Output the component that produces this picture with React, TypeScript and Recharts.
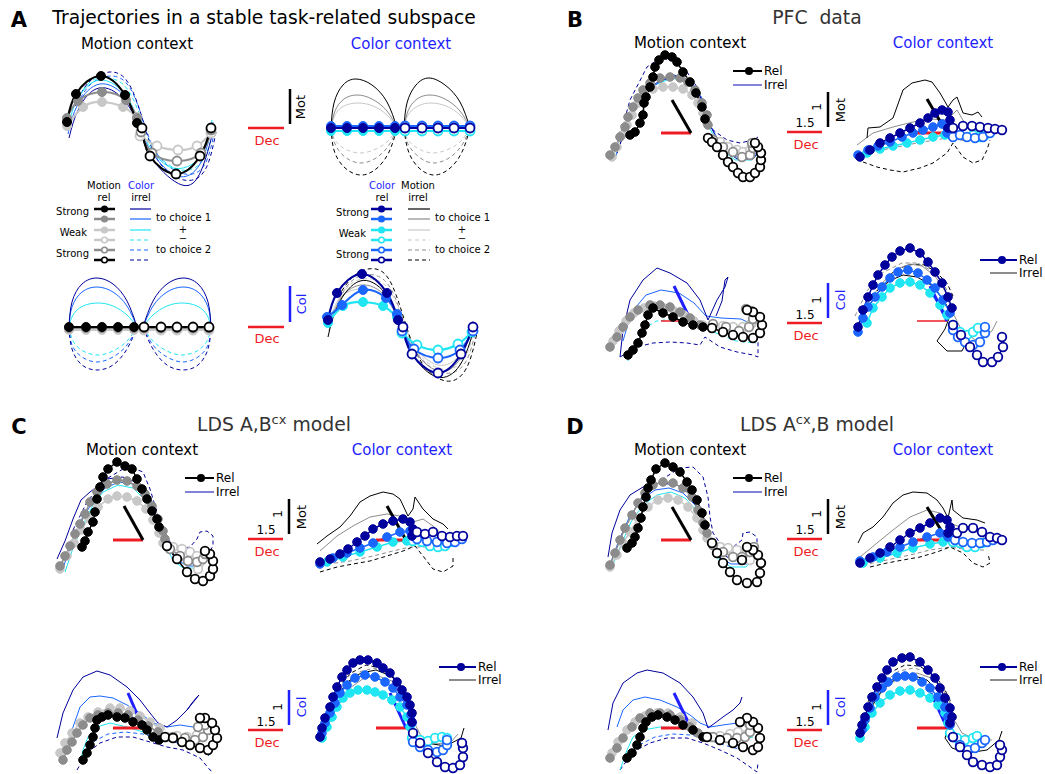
import React from 'react'
import { LineChart, Line, XAxis, YAxis } from 'recharts'

type P = [number, number]

// ---------- Panel A: idealised trajectories (origin at the centre of each plot) ----------
// motion context, motion axis: relevant motion (grays), irrelevant color (blues)
const A_TL_F1: P[] = [[-72, 4], [-63, 32], [-38, 50], [-14, 31], [-2, 3]]
const A_TL_F2: P[] = [[-72, 8], [-61, 25], [-37, 34], [-13, 26], [-2, 8]]
const A_TL_F3: P[] = [[-72, 0], [-56, 19], [-37, 24], [-16, 19], [-2, 9]]
const A_TL_O3: P[] = [[1, -10], [18, -20], [39, -24], [58, -20], [72, -7]]
const A_TL_O2: P[] = [[2, -6], [13, -27], [38, -35], [62, -27], [72, -4]]
const A_TL_O1: P[] = [[3, -2], [11, -30], [37, -48], [61, -30], [72, -2]]
const A_TL_S1: P[] = [[-70, -12], [-60, 18], [-40, 38], [-15, 26], [2, -5], [15, -35], [43, -59], [62, -45], [75, -2]]
const A_TL_S2: P[] = [[-71, -8], [-61, 22], [-39, 42], [-13, 28], [1, -3], [14, -28], [38, -50], [61, -38], [74, 4]]
const A_TL_S3: P[] = [[-71, -4], [-62, 26], [-39, 46], [-12, 29], [1, -1], [13, -24], [34, -42], [61, -31], [73, 6]]
const A_TL_D1: P[] = [[-64, 20], [-50, 44], [-29, 54], [-10, 42], [5, 2], [20, -36], [45, -54], [66, -44], [77, -6]]
const A_TL_D2: P[] = [[-62, 22], [-48, 42], [-28, 50], [-9, 38], [6, 0], [21, -32], [46, -48], [66, -38], [76, -2]]
const A_TL_D3: P[] = [[-63, 24], [-49, 44], [-30, 48], [-11, 36], [4, 2], [18, -28], [42, -44], [64, -34], [75, 0]]

// color context, motion axis: relevant color flat, irrelevant motion arcs
const A_TR_F1: P[] = [[-69, 0], [-53, 0], [-37, 0], [-21, 0], [-5, 0]]
const A_TR_F2: P[] = [[-69, 2], [-53, 2], [-37, 2], [-21, 2], [-5, 2]]
const A_TR_F3: P[] = [[-69, -3], [-53, -3], [-37, -3], [-21, -3], [-5, -3]]
const A_TR_O3: P[] = [[5, -3], [22, -3], [38, -3], [54, -3], [70, -3]]
const A_TR_O2: P[] = [[5, 2], [22, 2], [38, 2], [54, 2], [70, 2]]
const A_TR_O1: P[] = [[5, 0], [22, 0], [38, 0], [54, 0], [70, 0]]
const A_TR_S1L: P[] = [[-69, 0], [-66, 25], [-57, 43], [-44, 49], [-28, 43], [-13, 26], [-3, 0]]
const A_TR_S1R: P[] = [[4, 0], [7, 25], [16, 43], [29, 50], [45, 43], [60, 26], [70, 0]]
const A_TR_S2L: P[] = [[-69, 0], [-65, 17], [-56, 29], [-43, 33], [-28, 29], [-13, 17], [-3, 0]]
const A_TR_S2R: P[] = [[4, 0], [8, 17], [17, 29], [30, 33], [45, 29], [60, 17], [70, 0]]
const A_TR_S3L: P[] = [[-69, 0], [-65, 13], [-56, 22], [-42, 25], [-27, 22], [-13, 13], [-3, 0]]
const A_TR_S3R: P[] = [[4, 0], [8, 13], [18, 22], [31, 25], [46, 22], [60, 13], [70, 0]]
const A_TR_D1L: P[] = [[-69, 0], [-66, -22], [-56, -39], [-40, -47], [-24, -41], [-11, -24], [-3, 0]]
const A_TR_D1R: P[] = [[4, 0], [8, -22], [18, -39], [33, -47], [49, -41], [62, -24], [70, 0]]
const A_TR_D2L: P[] = [[-69, 0], [-65, -16], [-55, -29], [-40, -35], [-24, -30], [-11, -17], [-3, 0]]
const A_TR_D2R: P[] = [[4, 0], [8, -16], [19, -29], [33, -35], [49, -30], [62, -17], [70, 0]]
const A_TR_D3L: P[] = [[-69, 0], [-65, -12], [-55, -21], [-40, -25], [-24, -21], [-11, -12], [-3, 0]]
const A_TR_D3R: P[] = [[4, 0], [8, -12], [19, -21], [33, -25], [49, -21], [62, -12], [70, 0]]

// motion context, color axis
const A_BL_F1: P[] = [[-70, 0], [-53, 0], [-37, 0], [-21, 0], [-5, 0]]
const A_BL_F2: P[] = [[-70, -1], [-53, -1], [-37, -1], [-21, -1], [-5, -1]]
const A_BL_F3: P[] = [[-70, -3], [-53, -3], [-37, -3], [-21, -3], [-5, -3]]
const A_BL_O3: P[] = [[5, -3], [22, -3], [38, -3], [54, -3], [70, -3]]
const A_BL_O2: P[] = [[5, -1], [22, -1], [38, -1], [54, -1], [70, -1]]
const A_BL_O1: P[] = [[5, 0], [22, 0], [38, 0], [54, 0], [70, 0]]
const A_BL_S1L: P[] = [[-70, 0], [-67, 25], [-57, 43], [-42, 49], [-26, 43], [-12, 26], [-2, 0]]
const A_BL_S1R: P[] = [[4, 0], [14, 26], [28, 43], [44, 49], [59, 43], [69, 25], [72, 0]]
const A_BL_S2L: P[] = [[-70, 0], [-67, 20], [-57, 35], [-42, 40], [-26, 35], [-12, 21], [-2, 0]]
const A_BL_S2R: P[] = [[4, 0], [14, 21], [28, 35], [44, 40], [59, 35], [69, 20], [72, 0]]
const A_BL_S3L: P[] = [[-70, 0], [-66, 12], [-56, 21], [-41, 24], [-26, 21], [-12, 12], [-2, 0]]
const A_BL_S3R: P[] = [[4, 0], [14, 12], [28, 21], [43, 24], [58, 21], [68, 12], [72, 0]]
const A_BL_D3L: P[] = [[-70, 0], [-66, -14], [-56, -24], [-41, -28], [-26, -24], [-12, -14], [-2, 0]]
const A_BL_D3R: P[] = [[4, 0], [14, -14], [28, -24], [43, -28], [58, -24], [68, -14], [72, 0]]
const A_BL_D2L: P[] = [[-70, 0], [-67, -18], [-57, -30], [-42, -35], [-26, -30], [-12, -18], [-2, 0]]
const A_BL_D2R: P[] = [[4, 0], [14, -18], [28, -30], [44, -35], [59, -30], [69, -18], [72, 0]]
const A_BL_D1L: P[] = [[-70, 0], [-67, -22], [-57, -38], [-42, -43], [-26, -38], [-12, -22], [-2, 0]]
const A_BL_D1R: P[] = [[4, 0], [14, -22], [28, -38], [44, -43], [59, -38], [69, -22], [72, 0]]

// color context, color axis
const A_BR_F1: P[] = [[-72, 5], [-63, 32], [-38, 51], [-13, 32], [-2, 5]]
const A_BR_F2: P[] = [[-73, 8], [-58, 20], [-37, 35], [-14, 27], [-3, 11]]
const A_BR_F3: P[] = [[-72, 2], [-57, 19], [-37, 23], [-17, 19], [-3, 8]]
const A_BR_O3: P[] = [[2, -8], [17, -20], [38, -25], [58, -19], [72, -7]]
const A_BR_O2: P[] = [[2, -6], [14, -24], [38, -33], [60, -25], [73, -6]]
const A_BR_O1: P[] = [[3, -2], [12, -29], [38, -48], [61, -29], [73, -2]]
const A_BR_S1: P[] = [[-72, -12], [-62, 20], [-40, 44], [-15, 32], [1, 0], [13, -30], [37, -52], [60, -40], [74, -4]]
const A_BR_S2: P[] = [[-71, -6], [-61, 24], [-39, 40], [-14, 28], [1, -2], [14, -26], [38, -46], [60, -34], [73, 2]]
const A_BR_S3: P[] = [[-71, -2], [-61, 26], [-38, 36], [-13, 25], [1, -2], [14, -22], [38, -40], [61, -28], [73, 4]]
const A_BR_D1: P[] = [[-62, 28], [-45, 50], [-24, 56], [-8, 40], [6, 0], [22, -38], [46, -56], [66, -44], [77, -8]]
const A_BR_D2: P[] = [[-61, 26], [-46, 46], [-26, 50], [-9, 36], [5, 0], [20, -32], [44, -48], [65, -38], [76, -4]]
const A_BR_D3: P[] = [[-62, 24], [-48, 42], [-28, 46], [-10, 34], [4, 2], [18, -28], [42, -44], [64, -34], [75, 0]]

// ---------- Panel B: PFC data ----------
const B_TL_F1: P[] = [[-61, -2], [-56, 1], [-51, 10], [-48, 18], [-47, 30], [-45, 36], [-41, 46], [-38, 56], [-36, 66], [-32, 73], [-26, 78], [-19, 76], [-14, 71], [-8, 61], [-1, 51], [5, 40], [11, 26], [14, 14]]
const B_TL_F2: P[] = [[-81, -22], [-76, -14], [-71, -4], [-66, 6], [-63, 16], [-58, 26], [-53, 35], [-48, 43], [-41, 50], [-31, 55], [-21, 56], [-11, 55], [-3, 51], [4, 43], [11, 30], [16, 18], [17, 8]]
const B_TL_F3: P[] = [[-79, -24], [-74, -14], [-69, -2], [-64, 8], [-59, 18], [-53, 30], [-46, 38], [-38, 44], [-28, 46], [-18, 46], [-8, 44], [1, 38], [7, 30], [12, 20], [16, 10]]
const B_TL_O3: P[] = [[21, -6], [29, -9], [37, -14], [46, -17], [52, -19], [59, -17], [61, -12]]
const B_TL_O2: P[] = [[22, -7], [32, -14], [42, -19], [51, -24], [59, -22], [62, -15], [61, -10]]
const B_TL_O1: P[] = [[17, -5], [21, -9], [26, -14], [32, -22], [37, -29], [42, -34], [47, -40], [52, -44], [59, -44], [64, -40], [69, -34], [70, -27], [70, -20], [67, -14], [64, -10]]
const B_TL_S1: P[] = [[-74, -20], [-62, 15], [-47, 40], [-32, 52], [-16, 57], [0, 50], [12, 32], [19, 8], [30, -14], [46, -26], [62, -26], [70, -16]]
const B_TL_S2: P[] = [[-76, -25], [-63, 10], [-48, 36], [-33, 50], [-17, 58], [-1, 53], [11, 35], [18, 10], [30, -12], [45, -24], [62, -24], [70, -14]]
const B_TL_S3: P[] = [[-79, -27], [-66, 8], [-51, 33], [-36, 48], [-19, 55], [-3, 51], [9, 33], [17, 8], [29, -15], [44, -27], [61, -27], [69, -17]]
const B_TL_D1: P[] = [[-74, -14], [-61, 33], [-44, 66], [-31, 75], [-18, 73], [-4, 61], [6, 46], [14, 23], [22, 3], [36, -7], [49, -10], [62, -7], [67, -4]]
const B_TL_AX: P[] = [[0, 0], [-19, 33]]

const B_TR_F1: P[] = [[-87, -24], [-77, -17], [-67, -10], [-57, -5], [-47, 0], [-37, 5], [-27, 10], [-19, 15], [-12, 20], [-5, 23], [1, 21], [3, 13], [1, 5]]
const B_TR_F2: P[] = [[-89, -22], [-79, -17], [-69, -13], [-57, -9], [-45, -4], [-34, 0], [-24, 3], [-14, 6], [-5, 9], [1, 5], [0, 0]]
const B_TR_F3: P[] = [[-80, -20], [-67, -16], [-54, -13], [-40, -10], [-27, -7], [-14, -4], [-2, -2]]
const B_TR_O3: P[] = [[6, 0], [13, 3], [20, 1], [26, -2], [33, -4], [38, -2]]
const B_TR_O2: P[] = [[6, -4], [13, -2], [20, -4], [28, -5], [36, -4], [43, 0]]
const B_TR_O1: P[] = [[6, 5], [16, 7], [25, 7], [33, 6], [41, 5], [48, 4], [55, 3]]
const B_TR_S1: P[] = [[-80, -5], [-79, 5], [-67, 6], [-54, 15], [-44, 43], [-35, 50], [-22, 53], [-15, 51], [-7, 40], [1, 26], [6, 33], [10, 36], [16, 20], [25, 18], [31, 21], [35, 16]]
const B_TR_S2: P[] = [[-90, -12], [-74, 0], [-54, 6], [-34, 11], [-17, 14], [0, 13], [10, 23], [20, 6], [30, 2], [40, -2]]
const B_TR_D1: P[] = [[-84, -29], [-70, -34], [-57, -37], [-44, -39], [-27, -35], [-14, -30], [0, -20], [6, -10], [16, -24], [26, -30], [35, -27], [40, -17], [43, -7]]
const B_TR_D2: P[] = [[-90, -22], [-60, -16], [-30, -10], [0, -5], [20, -8], [45, -3]]
const B_TR_AX: P[] = [[0, 0], [-20, 34]]

const B_BL_F1: P[] = [[-63, -34], [-58, -29], [-53, -22], [-49, -12], [-46, -4], [-43, 6], [-38, 13], [-28, 8], [-18, 4], [-8, -1], [2, -4], [12, -6]]
const B_BL_F2: P[] = [[-81, -26], [-74, -16], [-68, -6], [-61, 4], [-53, 11], [-41, 16], [-31, 16], [-21, 14], [-11, 9], [-1, 3], [9, -4]]
const B_BL_F3: P[] = [[-78, -20], [-72, -10], [-65, 0], [-57, 8], [-47, 13], [-37, 15], [-27, 13], [-17, 10], [-7, 6], [3, 0], [12, -4]]
const B_BL_O3: P[] = [[22, -4], [32, -5], [42, -6], [52, -6], [60, -3], [64, 2]]
const B_BL_O2: P[] = [[22, -3], [35, -6], [48, -10], [58, -6], [62, 2], [60, 10], [55, 12]]
const B_BL_O1: P[] = [[21, -7], [32, -11], [42, -14], [52, -16], [62, -17], [69, -12], [71, -4], [69, 4], [62, 9], [56, 11]]
const B_BL_S1: P[] = [[-71, -36], [-68, -9], [-61, 21], [-48, 41], [-34, 53], [-21, 48], [-4, 38], [9, 21], [17, 1], [26, 21], [34, 34], [37, 44], [34, 41], [31, 20], [25, 5]]
const B_BL_S2: P[] = [[-68, -20], [-60, 8], [-45, 26], [-30, 31], [-12, 28], [3, 18], [15, 5], [30, 3], [50, 2], [65, -5]]
const B_BL_D3: P[] = [[-63, -40], [-50, -10], [-35, 0], [-15, 2], [5, -2], [25, -12], [45, -20], [65, -22]]
const B_BL_D1: P[] = [[-71, -36], [-54, -26], [-38, -22], [-21, -21], [-4, -22], [9, -24], [14, -16], [29, -26], [46, -31], [62, -34], [67, -36], [67, -19]]
const B_BL_AX: P[] = [[0, 0], [-17, 35]]

const B_BR_F1: P[] = [[-89, -6], [-84, 11], [-79, 24], [-74, 36], [-69, 46], [-62, 56], [-55, 64], [-47, 70], [-37, 73], [-27, 68], [-19, 59], [-12, 49], [-5, 38], [1, 24], [5, 13]]
const B_BR_F2: P[] = [[-89, -11], [-84, 3], [-79, 14], [-72, 24], [-65, 34], [-57, 43], [-49, 49], [-39, 51], [-29, 48], [-20, 41], [-12, 33], [-4, 21], [3, 8]]
const B_BR_F3: P[] = [[-80, -2], [-74, 13], [-65, 24], [-57, 33], [-47, 38], [-37, 39], [-27, 36], [-17, 28], [-7, 16], [0, 6]]
const B_BR_O3: P[] = [[6, -4], [13, -11], [20, -14], [26, -11], [31, -7]]
const B_BR_O2: P[] = [[6, -9], [11, -16], [18, -21], [26, -24], [33, -21], [38, -12], [38, -6]]
const B_BR_O1: P[] = [[6, -4], [14, -14], [23, -26], [30, -34], [36, -41], [45, -41], [51, -36], [56, -26], [55, -16]]
const B_BR_S1: P[] = [[-84, 5], [-72, 25], [-58, 40], [-44, 46], [-30, 44], [-16, 36], [-4, 22], [4, 8], [-2, -8], [-10, -20], [0, -30], [15, -30], [20, -20]]
const B_BR_S2: P[] = [[-88, -5], [-78, 20], [-65, 38], [-50, 52], [-37, 57], [-25, 55], [-12, 45], [-2, 30], [5, 10], [15, -10], [30, -20], [45, -10], [50, 0]]
const B_BR_D2: P[] = [[-92, 5], [-80, 30], [-65, 48], [-45, 58], [-30, 58], [-15, 50], [-5, 40], [3, 25]]
const B_BR_D1: P[] = [[-70, 30], [-55, 48], [-40, 56], [-25, 57], [-12, 50], [0, 38], [6, 25]]
const B_BR_AX: P[] = [[0, 0], [-17, 35]]

// ---------- Panel C: LDS A,B^cx model ----------
const C_TL_F1: P[] = [[-61, -7], [-58, -1], [-55, 8], [-50, 18], [-48, 28], [-46, 41], [-43, 53], [-40, 63], [-35, 71], [-26, 78], [-18, 74], [-11, 71], [-6, 61], [-1, 51], [4, 41], [9, 29], [14, 21], [16, 13]]
const C_TL_F2: P[] = [[-83, -26], [-78, -16], [-73, -6], [-68, 6], [-63, 16], [-58, 26], [-53, 38], [-46, 48], [-36, 56], [-26, 60], [-16, 59], [-6, 54], [2, 46], [9, 34], [15, 21], [20, 9], [22, 1]]
const C_TL_F3: P[] = [[-83, -29], [-76, -16], [-69, -3], [-62, 10], [-54, 22], [-45, 33], [-35, 41], [-26, 44], [-16, 43], [-6, 39], [3, 31], [10, 20], [16, 7], [20, -3]]
const C_TL_O3: P[] = [[24, -6], [30, -7], [39, -9], [47, -12], [54, -16], [57, -22], [55, -29]]
const C_TL_O2: P[] = [[27, -9], [37, -16], [45, -21], [54, -22], [60, -19], [62, -14]]
const C_TL_O1: P[] = [[24, -6], [34, -19], [44, -32], [52, -39], [60, -41], [67, -36], [70, -29], [70, -21], [67, -14], [62, -11]]
const C_TL_S1: P[] = [[-86, -19], [-78, -1], [-70, 21], [-62, 40], [-53, 48], [-36, 61], [-20, 63], [-5, 57], [8, 40], [14, 20], [20, 0], [30, -15], [45, -22], [60, -22], [68, -15]]
const C_TL_S2: P[] = [[-80, -28], [-72, -5], [-62, 20], [-50, 38], [-38, 52], [-24, 58], [-10, 56], [3, 44], [10, 28], [16, 12], [22, -4], [32, -18], [44, -26], [58, -26], [66, -18]]
const C_TL_S3: P[] = [[-78, -32], [-70, -8], [-60, 15], [-50, 35], [-40, 48], [-25, 55], [-10, 52], [2, 40], [10, 25], [16, 10], [22, -5], [30, -20], [40, -28], [55, -28], [65, -20]]
const C_TL_D1: P[] = [[-70, 10], [-55, 40], [-35, 62], [-15, 74], [0, 68], [7, 51], [14, 28], [20, 11], [27, -2], [37, -9], [47, -7], [54, 1], [57, 8], [64, 9], [70, 4], [70, -6], [67, -11]]
const C_TL_AX: P[] = [[0, 0], [-19, 34]]

const C_TR_F1: P[] = [[-86, -22], [-76, -19], [-66, -14], [-58, -9], [-49, -2], [-41, 4], [-33, 11], [-23, 16], [-13, 19], [-3, 21], [4, 18], [7, 11], [6, 4]]
const C_TR_F2: P[] = [[-86, -24], [-73, -18], [-59, -13], [-46, -8], [-33, -3], [-19, 3], [-6, 8], [4, 9], [7, 4]]
const C_TR_F3: P[] = [[-79, -22], [-63, -17], [-46, -12], [-29, -7], [-13, -2], [1, -1]]
const C_TR_O3: P[] = [[7, -1], [16, -2], [24, -6], [32, -7], [39, -6], [44, -2]]
const C_TR_O2: P[] = [[11, 1], [21, -1], [31, -2], [41, -3], [49, -2], [56, 1]]
const C_TR_O1: P[] = [[11, 8], [19, 6], [27, 8], [36, 4], [44, 3], [51, 4], [57, 4]]
const C_TR_S1: P[] = [[-89, -4], [-79, 4], [-66, 13], [-56, 24], [-46, 38], [-36, 44], [-23, 48], [-13, 46], [-6, 41], [2, 24], [7, 31], [9, 43], [17, 31], [27, 21], [37, 16], [42, 11]]
const C_TR_S2: P[] = [[-86, -11], [-69, 4], [-53, 14], [-36, 23], [-19, 26], [-6, 24], [7, 18], [17, 21], [27, 14], [41, 1]]
const C_TR_D1: P[] = [[-86, -32], [-69, -27], [-53, -24], [-36, -21], [-19, -16], [-3, -11], [9, -6], [17, -16], [27, -29], [37, -32], [47, -26], [47, -16]]
const C_TR_D2: P[] = [[-79, -24], [-56, -21], [-33, -16], [-13, -11], [4, -7], [21, -7], [34, -6]]
const C_TR_AX: P[] = [[0, 0], [-19, 34]]

const C_BL_F1: P[] = [[-60, -32], [-56, -25], [-53, -17], [-50, -9], [-48, 0], [-46, 8], [-41, 11], [-35, 13], [-26, 11], [-18, 10], [-10, 6], [-1, 3], [4, -2], [10, -9], [16, -12]]
const C_BL_F2: P[] = [[-80, -32], [-76, -22], [-71, -14], [-66, -5], [-60, 3], [-53, 10], [-45, 13], [-35, 15], [-25, 15], [-15, 13], [-5, 8], [5, 2], [15, -4]]
const C_BL_F3: P[] = [[-83, -25], [-78, -15], [-71, -5], [-63, 5], [-55, 11], [-45, 16], [-33, 20], [-23, 20], [-13, 17], [-3, 12], [7, 6], [17, 0]]
const C_BL_O3: P[] = [[24, -9], [34, -8], [44, -9], [54, -7], [60, -2], [57, 3]]
const C_BL_O2: P[] = [[30, -9], [42, -10], [52, -12], [60, -9], [65, -2], [62, 3], [55, 1]]
const C_BL_O1: P[] = [[22, -9], [30, -10], [39, -14], [47, -17], [57, -20], [65, -22], [70, -17], [74, -10], [72, -2], [69, 5], [62, 10], [57, 10]]
const C_BL_S1: P[] = [[-86, -10], [-80, 15], [-70, 38], [-60, 51], [-46, 57], [-33, 53], [-16, 41], [-3, 28], [7, 15], [15, 5], [24, 1], [34, 8], [44, 18], [49, 25], [54, 31], [56, 33], [52, 28], [44, 18]]
const C_BL_S2: P[] = [[-71, -2], [-63, 21], [-53, 31], [-43, 32], [-30, 30], [-16, 23], [-3, 15], [10, 5], [24, 1], [37, 3], [50, 1], [60, -2]]
const C_BL_S3: P[] = [[-63, -35], [-60, -22], [-55, -9], [-46, 1], [-33, 5], [-16, 1], [0, -4], [17, -9], [34, -12], [50, -14], [64, -12]]
const C_BL_D1: P[] = [[-66, -42], [-56, -25], [-43, -15], [-26, -9], [-10, -9], [7, -14], [24, -19], [40, -22], [57, -30], [67, -42], [70, -44]]
const C_BL_D2: P[] = [[-63, -30], [-50, -14], [-35, -6], [-18, -4], [0, -6], [20, -12], [40, -16], [58, -20], [66, -28]]
const C_BL_AX: P[] = [[0, 0], [-15, 35]]

const C_BR_F1: P[] = [[-86, -9], [-84, 0], [-81, 10], [-76, 21], [-73, 31], [-69, 41], [-64, 51], [-59, 58], [-53, 65], [-46, 68], [-38, 68], [-29, 65], [-23, 60], [-16, 55], [-9, 46], [-4, 38], [1, 31], [4, 23], [6, 15], [6, 6]]
const C_BR_F2: P[] = [[-84, -5], [-81, 5], [-76, 15], [-71, 25], [-66, 35], [-59, 43], [-51, 50], [-41, 53], [-31, 51], [-21, 46], [-13, 40], [-6, 31], [1, 23], [5, 13], [6, 5]]
const C_BR_F3: P[] = [[-84, -10], [-79, 1], [-74, 11], [-69, 21], [-63, 30], [-56, 35], [-48, 38], [-39, 38], [-31, 36], [-23, 33], [-14, 28], [-6, 21], [1, 11], [4, 1]]
const C_BR_O3: P[] = [[6, -10], [14, -12], [22, -13], [29, -10], [36, -9], [41, -10]]
const C_BR_O2: P[] = [[7, -14], [14, -19], [22, -22], [31, -24], [37, -22], [41, -17], [41, -12]]
const C_BR_O1: P[] = [[7, -5], [14, -15], [22, -25], [31, -34], [39, -39], [47, -40], [54, -37], [57, -29], [57, -20], [56, -15]]
const C_BR_S1: P[] = [[-82, 0], [-72, 25], [-60, 45], [-45, 55], [-30, 58], [-15, 52], [-4, 40], [3, 25], [5, 10], [8, -5], [20, -15], [40, -18], [55, -10], [58, 0]]
const C_BR_S2: P[] = [[-82, -5], [-70, 20], [-56, 40], [-42, 50], [-28, 52], [-14, 47], [-3, 37], [4, 22], [8, 6], [15, -8], [30, -16], [45, -14], [52, -6]]
const C_BR_D1: P[] = [[-80, 15], [-68, 40], [-55, 55], [-40, 63], [-25, 60], [-12, 50], [-2, 38], [5, 22], [8, 8]]
const C_BR_D2: P[] = [[-86, -8], [-76, 20], [-62, 42], [-47, 56], [-32, 60], [-18, 55], [-6, 44], [2, 30], [6, 15]]
const C_BR_AX: P[] = [[0, 0], [-16, 35]]

// ---------- Panel D: LDS A^cx,B model ----------
const D_TL_F1: P[] = [[-64, -8], [-59, -3], [-56, 3], [-53, 12], [-50, 22], [-48, 33], [-45, 43], [-43, 52], [-40, 60], [-35, 71], [-26, 77], [-18, 73], [-11, 68], [-4, 58], [1, 50], [6, 40], [11, 27], [14, 15]]
const D_TL_F2: P[] = [[-81, -25], [-76, -13], [-71, 0], [-66, 12], [-59, 25], [-53, 37], [-46, 47], [-38, 55], [-28, 58], [-18, 57], [-8, 52], [1, 43], [7, 30], [12, 17], [16, 7]]
const D_TL_F3: P[] = [[-81, -27], [-74, -15], [-68, -3], [-61, 8], [-53, 22], [-43, 33], [-33, 40], [-23, 42], [-13, 40], [-3, 33], [6, 22], [12, 10], [16, 2]]
const D_TL_O3: P[] = [[21, -3], [29, -7], [37, -8], [46, -10], [56, -12], [62, -13], [59, -20]]
const D_TL_O2: P[] = [[22, -5], [32, -12], [42, -17], [51, -17], [59, -12], [63, -7]]
const D_TL_O1: P[] = [[21, -3], [26, -13], [32, -23], [39, -32], [46, -40], [56, -43], [66, -42], [69, -33], [70, -23], [67, -15], [62, -10], [56, -7], [51, -20]]
const D_TL_S1: P[] = [[-83, -17], [-79, 7], [-71, 30], [-61, 45], [-48, 53], [-31, 57], [-14, 55], [-1, 47], [9, 33], [16, 13], [22, -7], [36, -17], [49, -20], [62, -17]]
const D_TL_S2: P[] = [[-80, -22], [-72, 0], [-62, 22], [-50, 40], [-36, 50], [-22, 52], [-8, 47], [4, 35], [11, 18], [17, 0], [25, -15], [40, -24], [56, -24], [64, -15]]
const D_TL_S3: P[] = [[-79, -27], [-70, -5], [-60, 18], [-48, 35], [-34, 45], [-20, 48], [-6, 42], [5, 30], [12, 14], [18, -3], [26, -18], [40, -27], [55, -27], [63, -18]]
const D_TL_D1: P[] = [[-30, 60], [-11, 72], [2, 73], [12, 63], [17, 43], [19, 23], [22, 7], [29, -3], [42, -7], [51, 0], [52, 7], [59, 8], [66, 3], [66, -3]]
const D_TL_AX: P[] = [[0, 0], [-19, 33]]

const D_TR_F1: P[] = [[-87, -23], [-77, -18], [-67, -13], [-57, -7], [-47, 0], [-37, 7], [-27, 12], [-17, 17], [-7, 22], [0, 20], [3, 13], [1, 7]]
const D_TR_F2: P[] = [[-87, -21], [-74, -17], [-60, -12], [-47, -7], [-34, -2], [-20, 3], [-7, 7], [1, 3]]
const D_TR_F3: P[] = [[-84, -23], [-67, -18], [-50, -13], [-34, -8], [-17, -4], [-4, -2]]
const D_TR_O3: P[] = [[6, -2], [13, -3], [20, -7], [28, -7], [35, -3]]
const D_TR_O2: P[] = [[8, 0], [16, -2], [25, -3], [33, -3], [40, -2], [46, 0]]
const D_TR_O1: P[] = [[10, 7], [16, 12], [26, 12], [35, 8], [43, 3], [50, 2], [55, 0]]
const D_TR_S1: P[] = [[-89, -3], [-84, 7], [-74, 13], [-64, 23], [-54, 37], [-44, 45], [-34, 48], [-20, 47], [-10, 40], [-4, 32], [1, 22], [5, 40], [6, 30], [16, 22], [30, 20], [38, 17]]
const D_TR_S2: P[] = [[-87, -17], [-70, -3], [-54, 10], [-37, 23], [-20, 30], [-7, 27], [3, 17], [13, 13], [33, 7], [43, -7]]
const D_TR_D1: P[] = [[-77, -27], [-60, -23], [-44, -20], [-27, -17], [-10, -12], [3, -7], [16, -13], [26, -23], [36, -27], [43, -23], [41, -13]]
const D_TR_D2: P[] = [[-84, -25], [-60, -20], [-37, -15], [-17, -10], [3, -7], [23, -10], [40, -10]]
const D_TR_AX: P[] = [[0, 0], [-20, 33]]

const D_BL_F1: P[] = [[-64, -30], [-59, -25], [-54, -17], [-51, -9], [-48, 0], [-45, 6], [-39, 11], [-33, 13], [-24, 11], [-16, 8], [-8, 3], [2, -2], [12, -9]]
const D_BL_F2: P[] = [[-81, -30], [-74, -20], [-68, -10], [-59, 1], [-51, 10], [-41, 15], [-31, 15], [-21, 13], [-11, 8], [-1, 1], [7, -5]]
const D_BL_F3: P[] = [[-79, -25], [-73, -14], [-64, -2], [-56, 6], [-46, 12], [-34, 15], [-23, 15], [-11, 11], [1, 5]]
const D_BL_O3: P[] = [[19, -9], [29, -8], [39, -6], [47, -4], [54, 1], [56, 6]]
const D_BL_O2: P[] = [[22, -9], [36, -10], [46, -10], [54, -9], [59, -4], [59, 3]]
const D_BL_O1: P[] = [[16, -9], [29, -12], [42, -15], [52, -19], [62, -22], [67, -19], [69, -10], [67, 0], [62, 6], [56, 10], [49, 6]]
const D_BL_S1: P[] = [[-83, -2], [-78, 25], [-68, 45], [-54, 55], [-44, 58], [-28, 55], [-11, 45], [2, 31], [12, 15], [17, 0], [24, 5], [32, 11], [42, 18], [49, 25], [51, 31]]
const D_BL_S2: P[] = [[-74, 1], [-68, 18], [-58, 28], [-46, 31], [-31, 28], [-14, 21], [-1, 13], [9, 5], [19, 1], [32, 3], [46, 5], [56, 1]]
const D_BL_S3: P[] = [[-71, -42], [-64, -22], [-58, -9], [-48, -2], [-31, 1], [-11, 0], [9, -4], [29, -9], [49, -12], [62, -9]]
const D_BL_D1: P[] = [[-71, -42], [-58, -24], [-41, -15], [-24, -10], [-4, -10], [12, -15], [29, -22], [46, -30], [59, -39], [66, -44], [67, -35]]
const D_BL_D2: P[] = [[-66, -32], [-52, -17], [-36, -9], [-18, -6], [0, -7], [18, -12], [36, -18], [52, -22], [62, -20]]
const D_BL_AX: P[] = [[0, 0], [-17, 35]]

const D_BR_F1: P[] = [[-87, -5], [-85, 3], [-82, 11], [-79, 21], [-75, 31], [-70, 41], [-65, 50], [-60, 58], [-54, 66], [-45, 70], [-37, 71], [-27, 66], [-19, 58], [-12, 50], [-7, 40], [-2, 30], [3, 20], [5, 11], [3, 5]]
const D_BR_F2: P[] = [[-85, -2], [-82, 8], [-77, 20], [-72, 31], [-65, 40], [-59, 46], [-50, 51], [-42, 52], [-34, 51], [-25, 46], [-17, 40], [-9, 31], [-2, 21], [1, 11], [3, 3]]
const D_BR_F3: P[] = [[-87, -10], [-82, 1], [-75, 15], [-67, 25], [-57, 33], [-47, 37], [-37, 38], [-27, 35], [-17, 30], [-9, 23], [-2, 15], [1, 5]]
const D_BR_O3: P[] = [[3, -5], [10, -10], [18, -12], [26, -10], [30, -8]]
const D_BR_O2: P[] = [[6, -9], [13, -17], [21, -22], [28, -20], [35, -15], [38, -12]]
const D_BR_O1: P[] = [[6, -9], [13, -19], [20, -27], [26, -34], [35, -37], [43, -39], [50, -37], [53, -29], [55, -22], [53, -17]]
const D_BR_S1: P[] = [[-84, -5], [-76, 20], [-65, 38], [-50, 50], [-35, 53], [-20, 48], [-8, 36], [0, 22], [3, 5], [-2, -10], [5, -20], [20, -25], [40, -22], [52, -12], [55, -3]]
const D_BR_S2: P[] = [[-86, 0], [-74, 25], [-60, 42], [-45, 52], [-30, 55], [-16, 50], [-5, 40], [3, 25], [6, 10], [15, -5], [30, -12], [45, -12]]
const D_BR_D1: P[] = [[-82, 20], [-72, 40], [-58, 55], [-42, 63], [-28, 62], [-14, 54], [-4, 42], [3, 28], [6, 15]]
const D_BR_D2: P[] = [[-88, -3], [-78, 22], [-64, 45], [-48, 57], [-33, 60], [-20, 56], [-8, 46], [1, 33], [5, 18]]
const D_BR_AX: P[] = [[0, 0], [-16, 35]]

// decision-axis stub shared by every data plot
const DEC_AX: P[] = [[-30, 0], [0, 0]]

const FONT = '"DejaVu Sans", Verdana, sans-serif'
const BLACK = '#000000'
const GRAY = '#8c8c8c'
const LIGHT = '#c8c8c8'
const NAVY = '#00009c'
const BLUE = '#1a66ff'
const CYAN = '#1fe6f2'
const RED = '#ee1c24'
const CTX = '#1f1fff'
const TITLE = '#333333'
const GRAYS = [BLACK, GRAY, LIGHT]
const BLUES = [NAVY, BLUE, CYAN]

interface S {
  pts: P[]
  color: string
  w?: number
  dash?: boolean
  dot?: 'f' | 'o'
  r?: number
  smooth?: boolean
}

const rows = (pts: P[]) => pts.map(([x, y]) => ({ x, y }))

// sets are [F1, F2, F3, O3, O2, O1]; weak first so strong sits on top
function relSet(c: string[], sets: P[][], r: number, w: number, smooth = false): S[] {
  const [f1, f2, f3, o3, o2, o1] = sets
  return [
    { pts: f3, color: c[2], dot: 'f', r, w, smooth },
    { pts: o3, color: c[2], dot: 'o', r, w, smooth },
    { pts: f2, color: c[1], dot: 'f', r, w, smooth },
    { pts: o2, color: c[1], dot: 'o', r, w, smooth },
    { pts: f1, color: c[0], dot: 'f', r, w, smooth },
    { pts: o1, color: c[0], dot: 'o', r, w, smooth },
  ]
}

function thin(pts: P[], color: string, dash = false, smooth = false): S {
  return { pts, color, dash, smooth, w: 1 }
}

function axes(ax: P[], color: string, decW = 3): S[] {
  return [
    { pts: DEC_AX, color: RED, w: decW },
    { pts: ax, color, w: 3 },
  ]
}

function Traj({ ox, oy, series, box = [-110, -100, 210, 165] }: { ox: number; oy: number; series: S[]; box?: number[] }) {
  const [l, t, w, h] = box
  return (
    <div style={{ position: 'absolute', left: ox + l, top: oy + t }}>
      <LineChart width={w} height={h} margin={{ top: 0, right: 0, bottom: 0, left: 0 }}>
        <XAxis type="number" dataKey="x" domain={[l, l + w]} hide allowDataOverflow />
        <YAxis type="number" dataKey="y" domain={[-(t + h), -t]} hide allowDataOverflow />
        {series.map((s, i) => (
          <Line
            key={i}
            data={rows(s.pts)}
            dataKey="y"
            type={s.smooth ? 'natural' : 'linear'}
            stroke={s.color}
            strokeWidth={s.w ?? 1}
            strokeDasharray={s.dash ? '4 3' : undefined}
            dot={
              s.dot
                ? { r: s.r ?? 4, fill: s.dot === 'o' ? '#ffffff' : s.color, stroke: s.color, strokeWidth: s.dot === 'o' ? 1.8 : 1 }
                : false
            }
            activeDot={false}
            isAnimationActive={false}
          />
        ))}
      </LineChart>
    </div>
  )
}

function Txt({ x, y, size = 12, color = BLACK, rot = 0, bold = false, align = 'c', children }: any) {
  const tx = align === 'l' ? '0' : align === 'r' ? '-100%' : '-50%'
  return (
    <div
      style={{
        position: 'absolute', left: x, top: y, transform: `translate(${tx},-50%) rotate(${rot}deg)`,
        fontSize: size, color, fontWeight: bold ? 'bold' : 'normal', whiteSpace: 'pre', lineHeight: 1, fontFamily: FONT,
      }}
    >
      {children}
    </div>
  )
}

const A_BOX = [-90, -75, 180, 150]

function PanelA() {
  const legRows = [209, 219, 230, 240, 250, 260]
  const legL = [
    [BLACK, 'f'], [GRAY, 'f'], [LIGHT, 'f'], [LIGHT, 'o'], [GRAY, 'o'], [BLACK, 'o'],
  ]
  const legLi = [[NAVY, 0], [BLUE, 0], [CYAN, 0], [CYAN, 1], [BLUE, 1], [NAVY, 1]]
  const legR = [
    [NAVY, 'f'], [BLUE, 'f'], [CYAN, 'f'], [CYAN, 'o'], [BLUE, 'o'], [NAVY, 'o'],
  ]
  const legRi = [[BLACK, 0], [GRAY, 0], [LIGHT, 0], [LIGHT, 1], [GRAY, 1], [BLACK, 1]]
  return (
    <>
      <Txt x={19} y={20} size={21} bold>A</Txt>
      <Txt x={264} y={18} size={18.7}>Trajectories in a stable task-related subspace</Txt>
      <Txt x={137} y={44} size={15}>Motion context</Txt>
      <Txt x={401} y={44} size={15} color={CTX}>Color context</Txt>

      <Traj ox={139} oy={126} box={A_BOX} series={[
        thin(A_TL_D3, CYAN, true, true), thin(A_TL_D2, BLUE, true, true), thin(A_TL_D1, NAVY, true, true),
        thin(A_TL_S3, CYAN, false, true), thin(A_TL_S2, BLUE, false, true), thin(A_TL_S1, NAVY, false, true),
        ...relSet(GRAYS, [A_TL_F1, A_TL_F2, A_TL_F3, A_TL_O3, A_TL_O2, A_TL_O1], 4.5, 2.2, true),
      ]} />
      <Traj ox={400} oy={128} box={A_BOX} series={[
        thin(A_TR_D3L, LIGHT, true, true), thin(A_TR_D3R, LIGHT, true, true),
        thin(A_TR_D2L, GRAY, true, true), thin(A_TR_D2R, GRAY, true, true),
        thin(A_TR_D1L, BLACK, true, true), thin(A_TR_D1R, BLACK, true, true),
        thin(A_TR_S3L, LIGHT, false, true), thin(A_TR_S3R, LIGHT, false, true),
        thin(A_TR_S2L, GRAY, false, true), thin(A_TR_S2R, GRAY, false, true),
        thin(A_TR_S1L, BLACK, false, true), thin(A_TR_S1R, BLACK, false, true),
        ...relSet(BLUES, [A_TR_F1, A_TR_F2, A_TR_F3, A_TR_O3, A_TR_O2, A_TR_O1], 4.5, 2.2),
      ]} />
      <Traj ox={139} oy={327} box={A_BOX} series={[
        thin(A_BL_D3L, CYAN, true, true), thin(A_BL_D3R, CYAN, true, true),
        thin(A_BL_D2L, BLUE, true, true), thin(A_BL_D2R, BLUE, true, true),
        thin(A_BL_D1L, NAVY, true, true), thin(A_BL_D1R, NAVY, true, true),
        thin(A_BL_S3L, CYAN, false, true), thin(A_BL_S3R, CYAN, false, true),
        thin(A_BL_S2L, BLUE, false, true), thin(A_BL_S2R, BLUE, false, true),
        thin(A_BL_S1L, NAVY, false, true), thin(A_BL_S1R, NAVY, false, true),
        ...relSet(GRAYS, [A_BL_F1, A_BL_F2, A_BL_F3, A_BL_O3, A_BL_O2, A_BL_O1], 4.5, 2.2),
      ]} />
      <Traj ox={400} oy={325} box={A_BOX} series={[
        thin(A_BR_D3, LIGHT, true, true), thin(A_BR_D2, GRAY, true, true), thin(A_BR_D1, BLACK, true, true),
        thin(A_BR_S3, LIGHT, false, true), thin(A_BR_S2, GRAY, false, true), thin(A_BR_S1, BLACK, false, true),
        ...relSet(BLUES, [A_BR_F1, A_BR_F2, A_BR_F3, A_BR_O3, A_BR_O2, A_BR_O1], 4.5, 2.2, true),
      ]} />

      {/* scale bars and legend keys */}
      <svg width={1045} height={774} style={{ position: 'absolute', left: 0, top: 0 }}>
        <line x1={248} x2={284} y1={128} y2={128} stroke={RED} strokeWidth={2.5} />
        <line x1={290} x2={290} y1={89} y2={124} stroke={BLACK} strokeWidth={2.5} />
        <line x1={248} x2={284} y1={327} y2={327} stroke={RED} strokeWidth={2.5} />
        <line x1={290} x2={290} y1={286} y2={322} stroke={CTX} strokeWidth={2.5} />
        {legRows.map((y, i) => (
          <g key={i}>
            <line x1={94} x2={115} y1={y} y2={y} stroke={legL[i][0]} strokeWidth={2.5} />
            <circle cx={104.5} cy={y} r={2.8} fill={legL[i][1] === 'o' ? '#fff' : legL[i][0]} stroke={legL[i][0]} strokeWidth={1.5} />
            <line x1={130} x2={151} y1={y} y2={y} stroke={legLi[i][0] as string} strokeWidth={1.2} strokeDasharray={legLi[i][1] ? '4 3' : undefined} />
            <line x1={371} x2={392} y1={y} y2={y} stroke={legR[i][0]} strokeWidth={2.5} />
            <circle cx={381.5} cy={y} r={2.8} fill={legR[i][1] === 'o' ? '#fff' : legR[i][0]} stroke={legR[i][0]} strokeWidth={1.5} />
            <line x1={408} x2={430} y1={y} y2={y} stroke={legRi[i][0] as string} strokeWidth={1.2} strokeDasharray={legRi[i][1] ? '4 3' : undefined} />
          </g>
        ))}
      </svg>
      <Txt x={267} y={140} size={13} color={RED}>Dec</Txt>
      <Txt x={300} y={107} size={13} rot={-90}>Mot</Txt>
      <Txt x={267} y={338} size={13} color={RED}>Dec</Txt>
      <Txt x={301} y={304} size={13} rot={-90} color={CTX}>Col</Txt>

      <Txt x={104} y={186} size={10}>Motion</Txt>
      <Txt x={104} y={198} size={10}>rel</Txt>
      <Txt x={141} y={186} size={10} color={CTX}>Color</Txt>
      <Txt x={141} y={198} size={10}>irrel</Txt>
      <Txt x={89} y={212} size={10} align="r">Strong</Txt>
      <Txt x={87} y={233} size={10} align="r">Weak</Txt>
      <Txt x={89} y={254} size={10} align="r">Strong</Txt>
      <Txt x={156} y={218} size={10} align="l">to choice 1</Txt>
      <Txt x={183} y={230} size={10}>+</Txt>
      <Txt x={183} y={239} size={10}>−</Txt>
      <Txt x={156} y={250} size={10} align="l">to choice 2</Txt>

      <Txt x={382} y={186} size={10} color={CTX}>Color</Txt>
      <Txt x={382} y={198} size={10}>rel</Txt>
      <Txt x={418} y={186} size={10}>Motion</Txt>
      <Txt x={418} y={198} size={10}>irrel</Txt>
      <Txt x={369} y={213} size={10} align="r">Strong</Txt>
      <Txt x={366} y={234} size={10} align="r">Weak</Txt>
      <Txt x={369} y={255} size={10} align="r">Strong</Txt>
      <Txt x={435} y={218} size={10} align="l">to choice 1</Txt>
      <Txt x={462} y={230} size={10}>+</Txt>
      <Txt x={462} y={239} size={10}>−</Txt>
      <Txt x={435} y={250} size={10} align="l">to choice 2</Txt>
    </>
  )
}

interface DataSet {
  tl: S[]
  tr: S[]
  bl: S[]
  br: S[]
}

// one data panel (B, C or D); dy shifts the fixed furniture down for the lower row
function DataPanel({ letter, title, lx, tx, dy, plotX, barX, set }: { letter: string; title: React.ReactNode; lx: number; tx: number; dy: number; plotX: number[]; barX: number; set: DataSet }) {
  const [xl, xr] = plotX
  const legX = xl + 42
  const legX2 = xr + 33
  return (
    <>
      <Txt x={lx} y={20 + dy} size={21} bold>{letter}</Txt>
      <Txt x={tx} y={18 + dy} size={18.8} color={TITLE}>{title}</Txt>
      <Txt x={xl - 1} y={43 + dy} size={15}>Motion context</Txt>
      <Txt x={xr - 4} y={43 + dy} size={15} color={CTX}>Color context</Txt>

      <Traj ox={xl} oy={133 + dy} series={set.tl} />
      <Traj ox={xr} oy={133 + dy} series={set.tr} />
      <Traj ox={xl} oy={321 + dy} series={set.bl} />
      <Traj ox={xr} oy={321 + dy} series={set.br} />

      <svg width={1045} height={774} style={{ position: 'absolute', left: 0, top: 0 }}>
        <line x1={barX - 41} x2={barX - 6} y1={132 + dy} y2={132 + dy} stroke={RED} strokeWidth={2.5} />
        <line x1={barX} x2={barX} y1={92 + dy} y2={127 + dy} stroke={BLACK} strokeWidth={2.5} />
        <line x1={barX - 41} x2={barX - 6} y1={323 + dy} y2={323 + dy} stroke={RED} strokeWidth={2.5} />
        <line x1={barX} x2={barX} y1={283 + dy} y2={318 + dy} stroke={CTX} strokeWidth={2.5} />
        <line x1={legX} x2={legX + 29} y1={71 + dy} y2={71 + dy} stroke={BLACK} strokeWidth={2} />
        <circle cx={legX + 16} cy={71 + dy} r={4} fill={BLACK} />
        <line x1={legX} x2={legX + 29} y1={85 + dy} y2={85 + dy} stroke="#3030c0" strokeWidth={1.2} />
        <line x1={legX2} x2={legX2 + 37} y1={260 + dy} y2={260 + dy} stroke={NAVY} strokeWidth={2} />
        <circle cx={legX2 + 22} cy={260 + dy} r={4} fill={NAVY} />
        <line x1={legX2 + 10} x2={legX2 + 37} y1={273 + dy} y2={273 + dy} stroke="#666666" strokeWidth={1.5} />
      </svg>
      <Txt x={legX + 31} y={71 + dy} size={12} align="l">Rel</Txt>
      <Txt x={legX + 31} y={85 + dy} size={12} align="l">Irrel</Txt>
      <Txt x={legX2 + 39} y={260 + dy} size={12} align="l">Rel</Txt>
      <Txt x={legX2 + 39} y={273 + dy} size={12} align="l">Irrel</Txt>

      <Txt x={barX - 11} y={107 + dy} size={12} rot={-90}>1</Txt>
      <Txt x={barX - 23} y={123 + dy} size={12}>1.5</Txt>
      <Txt x={barX - 22} y={144 + dy} size={13} color={RED}>Dec</Txt>
      <Txt x={barX + 12} y={110 + dy} size={13} rot={-90}>Mot</Txt>
      <Txt x={barX - 11} y={300 + dy} size={12} rot={-90}>1</Txt>
      <Txt x={barX - 23} y={315 + dy} size={12}>1.5</Txt>
      <Txt x={barX - 22} y={335 + dy} size={13} color={RED}>Dec</Txt>
      <Txt x={barX + 12} y={300 + dy} size={13} rot={-90} color={CTX}>Col</Txt>
    </>
  )
}

const B_SET: DataSet = {
  tl: [thin(B_TL_D1, NAVY, true), thin(B_TL_S3, CYAN), thin(B_TL_S2, BLUE), thin(B_TL_S1, NAVY),
    ...relSet(GRAYS, [B_TL_F1, B_TL_F2, B_TL_F3, B_TL_O3, B_TL_O2, B_TL_O1], 4.3, 1.5), ...axes(B_TL_AX, BLACK)],
  tr: [thin(B_TR_D2, GRAY, true), thin(B_TR_D1, BLACK, true), thin(B_TR_S2, GRAY), thin(B_TR_S1, BLACK),
    ...relSet(BLUES, [B_TR_F1, B_TR_F2, B_TR_F3, B_TR_O3, B_TR_O2, B_TR_O1], 4.3, 1.5), ...axes(B_TR_AX, BLACK)],
  bl: [thin(B_BL_D1, NAVY, true), thin(B_BL_D3, CYAN, true), thin(B_BL_S2, BLUE), thin(B_BL_S1, NAVY),
    ...relSet(GRAYS, [B_BL_F1, B_BL_F2, B_BL_F3, B_BL_O3, B_BL_O2, B_BL_O1], 4.3, 1.5), ...axes(B_BL_AX, CTX, 1.5)],
  br: [thin(B_BR_D2, GRAY, true), thin(B_BR_D1, BLACK, true), thin(B_BR_S2, GRAY), thin(B_BR_S1, BLACK),
    ...relSet(BLUES, [B_BR_F1, B_BR_F2, B_BR_F3, B_BR_O3, B_BR_O2, B_BR_O1], 4.3, 1.5), ...axes(B_BR_AX, CTX, 1.5)],
}

const C_SET: DataSet = {
  tl: [thin(C_TL_D1, NAVY, true), thin(C_TL_S3, CYAN), thin(C_TL_S2, BLUE), thin(C_TL_S1, NAVY),
    ...relSet(GRAYS, [C_TL_F1, C_TL_F2, C_TL_F3, C_TL_O3, C_TL_O2, C_TL_O1], 4.3, 1.5), ...axes(C_TL_AX, BLACK)],
  tr: [thin(C_TR_D2, GRAY, true), thin(C_TR_D1, BLACK, true), thin(C_TR_S2, GRAY), thin(C_TR_S1, BLACK),
    ...relSet(BLUES, [C_TR_F1, C_TR_F2, C_TR_F3, C_TR_O3, C_TR_O2, C_TR_O1], 4.3, 1.5), ...axes(C_TR_AX, BLACK)],
  bl: [thin(C_BL_D1, NAVY, true), thin(C_BL_D2, BLUE, true), thin(C_BL_S3, CYAN), thin(C_BL_S2, BLUE), thin(C_BL_S1, NAVY),
    ...relSet(GRAYS, [C_BL_F1, C_BL_F2, C_BL_F3, C_BL_O3, C_BL_O2, C_BL_O1], 4.3, 1.5), ...axes(C_BL_AX, CTX)],
  br: [thin(C_BR_D2, GRAY, true), thin(C_BR_D1, BLACK, true), thin(C_BR_S2, GRAY), thin(C_BR_S1, BLACK),
    ...relSet(BLUES, [C_BR_F1, C_BR_F2, C_BR_F3, C_BR_O3, C_BR_O2, C_BR_O1], 4.3, 1.5), ...axes(C_BR_AX, CTX)],
}

const D_SET: DataSet = {
  tl: [thin(D_TL_D1, NAVY, true), thin(D_TL_S3, CYAN), thin(D_TL_S2, BLUE), thin(D_TL_S1, NAVY),
    ...relSet(GRAYS, [D_TL_F1, D_TL_F2, D_TL_F3, D_TL_O3, D_TL_O2, D_TL_O1], 4.3, 1.5), ...axes(D_TL_AX, BLACK)],
  tr: [thin(D_TR_D2, GRAY, true), thin(D_TR_D1, BLACK, true), thin(D_TR_S2, GRAY), thin(D_TR_S1, BLACK),
    ...relSet(BLUES, [D_TR_F1, D_TR_F2, D_TR_F3, D_TR_O3, D_TR_O2, D_TR_O1], 4.3, 1.5), ...axes(D_TR_AX, BLACK)],
  bl: [thin(D_BL_D1, NAVY, true), thin(D_BL_D2, BLUE, true), thin(D_BL_S3, CYAN), thin(D_BL_S2, BLUE), thin(D_BL_S1, NAVY),
    ...relSet(GRAYS, [D_BL_F1, D_BL_F2, D_BL_F3, D_BL_O3, D_BL_O2, D_BL_O1], 4.3, 1.5), ...axes(D_BL_AX, CTX)],
  br: [thin(D_BR_D2, GRAY, true), thin(D_BR_D1, BLACK, true), thin(D_BR_S2, GRAY), thin(D_BR_S1, BLACK),
    ...relSet(BLUES, [D_BR_F1, D_BR_F2, D_BR_F3, D_BR_O3, D_BR_O2, D_BR_O1], 4.3, 1.5), ...axes(D_BR_AX, CTX)],
}

const sup = { fontSize: 13, position: 'relative' as const, top: -7 }

export default function App() {
  return (
    <div style={{ position: 'absolute', left: 0, top: 0, width: 1045, height: 774, background: '#fff', overflow: 'hidden', fontFamily: FONT }}>
      <PanelA />
      <DataPanel letter="B" title="PFC  data" lx={575} tx={817} dy={0} plotX={[691, 947]} barX={828} set={B_SET} />
      <DataPanel
        letter="C"
        title={<span>LDS A,B<span style={sup}>cx</span> model</span>}
        lx={19} tx={274} dy={407} plotX={[143, 406]} barX={289} set={C_SET}
      />
      <DataPanel
        letter="D"
        title={<span>LDS A<span style={sup}>cx</span>,B model</span>}
        lx={575} tx={817} dy={407} plotX={[691, 947]} barX={828} set={D_SET}
      />
    </div>
  )
}
